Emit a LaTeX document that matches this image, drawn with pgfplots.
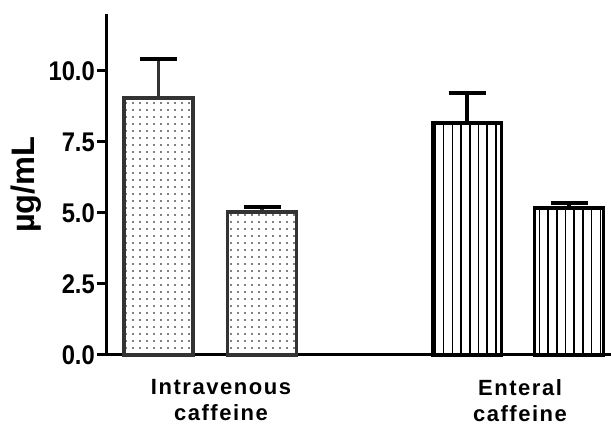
\documentclass[border=0pt]{standalone}
\usepackage{pgfplots}
\pgfplotsset{compat=1.18}
\usepackage{fontspec}
\setmainfont{Liberation Sans}
\newfontfamily\lblfont{Liberation Sans}[LetterSpace=7]
\newfontfamily\tickfont{Liberation Sans}[FakeStretch=0.88]
\newfontfamily\ylfont{Liberation Sans}
\usetikzlibrary{patterns.meta}
\definecolor{edge}{HTML}{333333}
\begin{document}
\begin{tikzpicture}
\path[use as bounding box] (0,0) rectangle (611pt,425pt);
\begin{axis}[
  at={(107pt,70pt)}, anchor=south west,
  scale only axis, width=504pt, height=341pt,
  xmin=0, xmax=504, ymin=0, ymax=12,
  axis lines=left,
  axis line style={-, line width=3pt, black},
  clip=false,
  ytick={0,2.5,5,7.5,10},
  /pgf/number format/fixed, /pgf/number format/fixed zerofill, /pgf/number format/precision=1, /pgf/number format/assume math mode=true,
  yticklabel style={font=\tickfont\bfseries\fontsize{27}{30}\selectfont, inner sep=2pt},
  tick align=outside,
  major tick length=10pt,
  tick style={line width=3pt, black},
  xtick={114,413},
  xticklabels={Intravenous\\caffeine, Enteral\\caffeine},
  x tick style={draw=none},
  xticklabel style={align=center, font=\lblfont\bfseries\fontsize{22}{26}\selectfont, yshift=-11pt},
  ylabel={µg/mL},
  every axis y label/.style={at={(axis description cs:-0.161,0.5)}, anchor=center, rotate=90, scale=1.55, font=\ylfont\bfseries\fontsize{21}{25}\selectfont},
  ybar, bar shift=0pt, bar width=69,
  error bars/y dir=plus, error bars/y explicit,
  error bars/error bar style={line width=3.5pt},
  error bars/error mark options={rotate=90, mark size=18.5pt, line width=3.5pt},
]
\addplot[draw=edge, line width=3.5pt, pattern={Dots[distance=7pt, radius=0.85pt]}, pattern color=black,
  error bars/error bar style={line width=3.5pt, draw=edge}]
  coordinates {(51.5,9.05) +- (0,1.37) (155,5.03) +- (0,0.17)};
\addplot[draw=black, line width=3.5pt, pattern={Lines[angle=90, distance=8.7pt, line width=1.5pt]}, pattern color=black,
  error bars/error bar style={line width=3.5pt, draw=black}]
  coordinates {(360,8.17) +- (0,1.05) (462,5.17) +- (0,0.18)};
\end{axis}
\end{tikzpicture}
\end{document}
